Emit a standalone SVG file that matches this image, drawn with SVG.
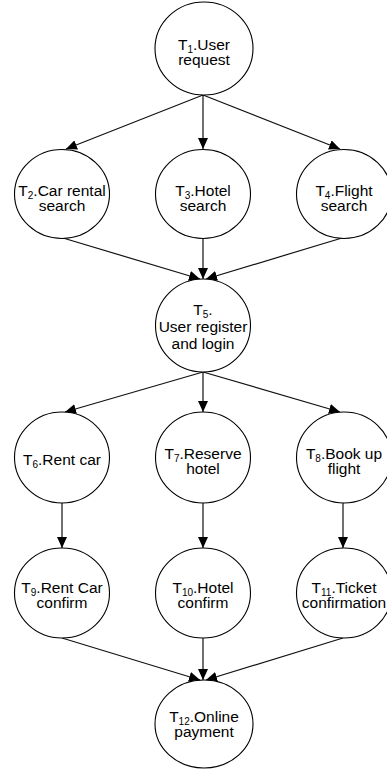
<svg xmlns="http://www.w3.org/2000/svg" width="387" height="769" viewBox="0 0 387 769">
<style>
.n{fill:#fff;stroke:#000;stroke-width:1.1}
.t{font-family:"Liberation Sans",Arial,sans-serif;font-size:15.5px;fill:#000;text-anchor:middle}
.s{font-size:10px}
.c line{stroke:#111;stroke-width:1.2;marker-end:url(#a)}
</style>
<defs>
<marker id="a" markerUnits="userSpaceOnUse" markerWidth="12" markerHeight="10" refX="11" refY="5" orient="auto">
<path d="M0,0 L11,5 L0,10 z" fill="#000"/>
</marker>
</defs>
<g class="c" id="connectors">
<line x1="203" y1="95" x2="66" y2="149"/>
<line x1="203" y1="95" x2="203" y2="149"/>
<line x1="203" y1="95" x2="340" y2="149"/>
<line x1="63" y1="238" x2="200" y2="279"/>
<line x1="203" y1="238" x2="203" y2="279"/>
<line x1="342" y1="238" x2="206" y2="279"/>
<line x1="203" y1="372" x2="65" y2="412"/>
<line x1="203" y1="372" x2="203" y2="412"/>
<line x1="203" y1="372" x2="340" y2="412"/>
<line x1="62" y1="503" x2="62" y2="548"/>
<line x1="203" y1="503" x2="203" y2="548"/>
<line x1="343" y1="503" x2="343" y2="548"/>
<line x1="62" y1="638" x2="200" y2="680"/>
<line x1="203" y1="638" x2="203" y2="680"/>
<line x1="343" y1="638" x2="206" y2="680"/>
</g>
<g id="T1"><ellipse class="n" cx="204" cy="48.5" rx="49" ry="46.5"/>
<text class="t" x="204" y="49.5">T<tspan class="s" dy="3">1</tspan><tspan dy="-3">.User</tspan></text>
<text class="t" x="204" y="64.5">request</text></g>
<g id="T2"><ellipse class="n" cx="62" cy="194" rx="47.5" ry="44.5"/>
<text class="t" x="62" y="195.5">T<tspan class="s" dy="3">2</tspan><tspan dy="-3">.Car rental</tspan></text>
<text class="t" x="62" y="210.5">search</text></g>
<g id="T3"><ellipse class="n" cx="203" cy="194" rx="47.5" ry="44.5"/>
<text class="t" x="203" y="195.5">T<tspan class="s" dy="3">3</tspan><tspan dy="-3">.Hotel</tspan></text>
<text class="t" x="203" y="210.5">search</text></g>
<g id="T4"><ellipse class="n" cx="344" cy="194" rx="47.5" ry="44.5"/>
<text class="t" x="344" y="195.5">T<tspan class="s" dy="3">4</tspan><tspan dy="-3">.Flight</tspan></text>
<text class="t" x="344" y="210.5">search</text></g>
<g id="T5"><ellipse class="n" cx="203" cy="325.5" rx="47.5" ry="46.5"/>
<text class="t" x="203" y="315">T<tspan class="s" dy="3">5</tspan><tspan dy="-3">.</tspan></text>
<text class="t" x="203" y="332">User register</text>
<text class="t" x="203" y="349">and login</text></g>
<g id="T6"><ellipse class="n" cx="62" cy="457.5" rx="47.5" ry="45.5"/>
<text class="t" x="62" y="465">T<tspan class="s" dy="3">6</tspan><tspan dy="-3">.Rent car</tspan></text></g>
<g id="T7"><ellipse class="n" cx="203" cy="457.5" rx="47.5" ry="45.5"/>
<text class="t" x="203" y="458.5">T<tspan class="s" dy="3">7</tspan><tspan dy="-3">.Reserve</tspan></text>
<text class="t" x="203" y="473.5">hotel</text></g>
<g id="T8"><ellipse class="n" cx="344" cy="457.5" rx="47.5" ry="45.5"/>
<text class="t" x="344" y="458.5">T<tspan class="s" dy="3">8</tspan><tspan dy="-3">.Book up</tspan></text>
<text class="t" x="344" y="473.5">flight</text></g>
<g id="T9"><ellipse class="n" cx="62" cy="593" rx="47.5" ry="45"/>
<text class="t" x="62" y="592.5">T<tspan class="s" dy="3">9</tspan><tspan dy="-3">.Rent Car</tspan></text>
<text class="t" x="62" y="607.5">confirm</text></g>
<g id="T10"><ellipse class="n" cx="203" cy="593" rx="47.5" ry="45"/>
<text class="t" x="203" y="592.5">T<tspan class="s" dy="3">10</tspan><tspan dy="-3">.Hotel</tspan></text>
<text class="t" x="203" y="607.5">confirm</text></g>
<g id="T11"><ellipse class="n" cx="344" cy="593" rx="47.5" ry="45"/>
<text class="t" x="344" y="592.5">T<tspan class="s" dy="3">11</tspan><tspan dy="-3">.Ticket</tspan></text>
<text class="t" x="344" y="607.5">confirmation</text></g>
<g id="T12"><ellipse class="n" cx="204" cy="724" rx="49" ry="44"/>
<text class="t" x="204" y="722">T<tspan class="s" dy="3">12</tspan><tspan dy="-3">.Online</tspan></text>
<text class="t" x="204" y="737">payment</text></g>
</svg>
